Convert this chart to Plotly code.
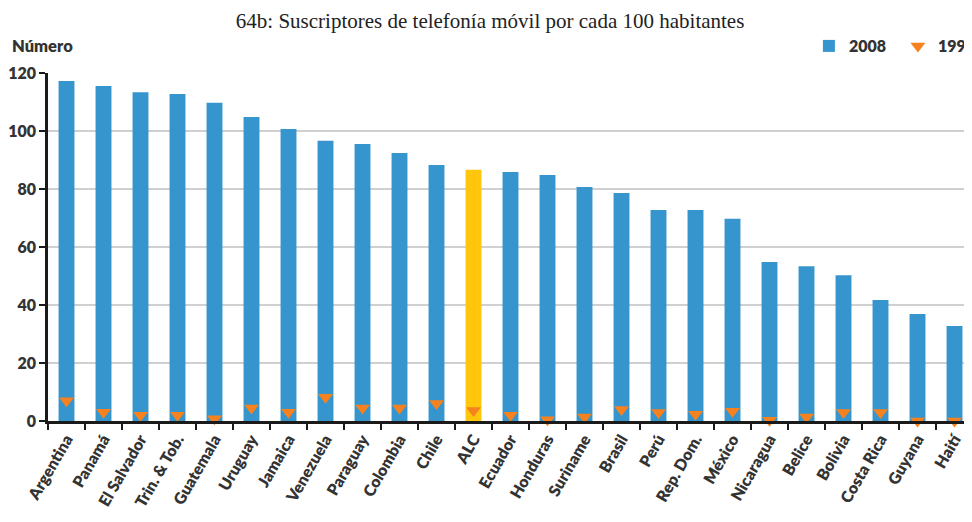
import plotly.graph_objects as go

categories = ["Argentina", "Panamá", "El Salvador", "Trin. & Tob.", "Guatemala", "Uruguay",
              "Jamaica", "Venezuela", "Paraguay", "Colombia", "Chile", "ALC", "Ecuador",
              "Honduras", "Suriname", "Brasil", "Perú", "Rep. Dom.", "México", "Nicaragua",
              "Belice", "Bolivia", "Costa Rica", "Guyana", "Haití"]
values_2008 = [117.2, 115.5, 113.4, 112.8, 109.7, 104.8, 100.7, 96.6, 95.5, 92.4, 88.3, 86.6,
               85.9, 84.8, 80.7, 78.6, 72.8, 72.8, 69.7, 54.8, 53.4, 50.3, 41.7, 36.9, 32.8]
values_1998 = [7.0, 3.0, 2.0, 2.0, 0.8, 4.5, 3.0, 8.2, 4.5, 4.5, 6.0, 3.6,
               2.0, 0.4, 1.4, 4.0, 2.9, 2.3, 3.4, 0.3, 1.4, 2.9, 2.9, 0.0, 0.0]
y_ticks = [0, 20, 40, 60, 80, 100, 120]

BLUE = "#3695cc"
YELLOW = "#ffc60b"
ORANGE = "#f5821f"
TXT = "#333333"
FONT = "Lato"

bar_colors = [YELLOW if c == "ALC" else BLUE for c in categories]

fig = go.Figure()
fig.add_trace(go.Bar(x=categories, y=values_2008, name="2008", marker_color=bar_colors,
                     width=0.43, marker_line_width=0))
fig.add_trace(go.Scatter(x=categories, y=values_1998, name="1998", mode="markers",
                         marker=dict(symbol="triangle-down", size=13, color=ORANGE),
                         cliponaxis=False))

fig.update_layout(
    width=972, height=522,
    margin=dict(l=40, r=7, t=65, b=109, autoexpand=False),
    plot_bgcolor="white", paper_bgcolor="white",
    font=dict(family=FONT, color=TXT, size=14),
    title=dict(text="64b: Suscriptores de telefonía móvil por cada 100 habitantes",
               x=0.496, xref="container", xanchor="center", y=0.976, yanchor="middle",
               font=dict(family="Liberation Serif", size=21, color="#222222")),
    showlegend=True,
    legend=dict(orientation="h", x=0.8226, xanchor="left", y=1.0776, yanchor="middle",
                font=dict(family=FONT, size=16, color=TXT, weight=800),
                itemwidth=30, traceorder="normal", entrywidth=44, entrywidthmode="pixels"),
    bargap=0.57,
)
fig.update_xaxes(
    type="category", range=[-0.5, 24.5], automargin=False,
    showline=True, linecolor="#1a1a1a", linewidth=2.5,
    ticks="outside", tickson="boundaries", ticklen=6, tickwidth=2, tickcolor="#1a1a1a",
    tickangle=-60, tickfont=dict(family=FONT, size=16, color=TXT, weight=800),
    showgrid=False,
)
fig.update_yaxes(
    range=[0, 120], tickvals=y_ticks, automargin=False,
    showline=True, linecolor="#1a1a1a", linewidth=2.5,
    ticks="outside", ticklen=6, tickwidth=2, tickcolor="#1a1a1a",
    tickfont=dict(family=FONT, size=16, color=TXT, weight=800),
    showgrid=True, gridcolor="#d0d0d0", gridwidth=2,
    zeroline=False,
)
fig.add_annotation(text="Número", xref="paper", yref="paper", x=-0.0411, y=1.0776,
                   xanchor="left", yanchor="middle", showarrow=False,
                   font=dict(family=FONT, size=16.5, color=TXT, weight=800))

fig.write_html("out.html")
